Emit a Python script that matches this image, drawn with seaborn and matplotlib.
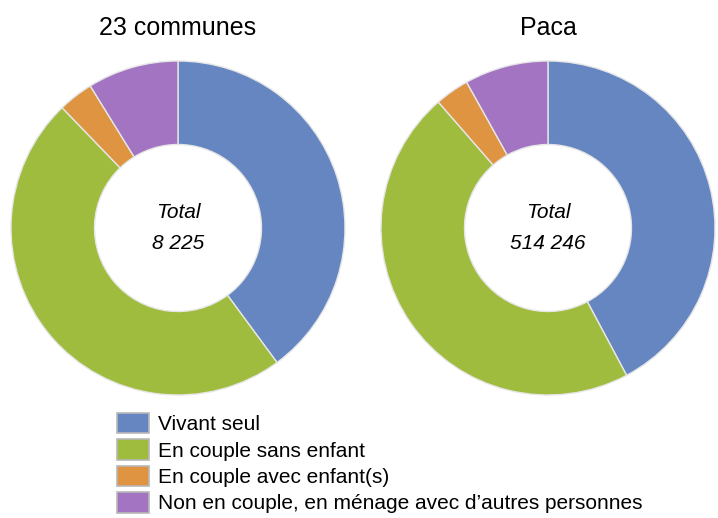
import matplotlib
matplotlib.use("Agg")
import matplotlib.pyplot as plt
import matplotlib.patches as mpatches
import seaborn as sns

# ---- Données (en %) ----
categories = ["Vivant seul",
              "En couple sans enfant",
              "En couple avec enfant(s)",
              "Non en couple, en ménage avec d\u2019autres personnes"]
communes_23 = [39.9, 47.9, 3.4, 8.8]
paca = [42.2, 46.4, 3.3, 8.1]
titres = ["23 communes", "Paca"]
totaux = ["8 225", "514 246"]

couleurs = ["#6586C0", "#A0BC3E", "#DE9440", "#A274C2"]

sns.set_theme(style="white")
plt.rcParams['font.family'] = ['Liberation Sans', 'DejaVu Sans']
plt.rcParams['text.color'] = 'black'

W, H = 718, 518
fig = plt.figure(figsize=(W / 100, H / 100), dpi=100)

R = 167  # rayon en pixels
centres = [(178, 228), (548, 228)]


def donut(ax, valeurs, titre, total):
    ax.pie(valeurs, colors=sns.color_palette(couleurs), startangle=90, counterclock=False,
           radius=1, wedgeprops=dict(width=0.5, edgecolor="#e6e6e6", linewidth=1.0))
    ax.set_xlim(-1, 1)
    ax.set_ylim(-1, 1)
    ax.set_aspect("equal")
    ax.axis("off")
    ax.text(0, 0.09, "Total", ha="center", va="center", fontsize=15, style="italic", color="black")
    ax.text(0, -0.09, total, ha="center", va="center", fontsize=15, style="italic", color="black")
    ax.text(0, 1.2, titre, ha="center", va="center", fontsize=18, color="black")


for (cx, cy), vals, t, tot in zip(centres, [communes_23, paca], titres, totaux):
    ax = fig.add_axes([(cx - R) / W, (H - cy - R) / H, 2 * R / W, 2 * R / H])
    donut(ax, vals, t, tot)

# ---- Légende ----
handles = [mpatches.Patch(facecolor=c, edgecolor="#b8b8b8", linewidth=1.2) for c in couleurs]
leg = fig.legend(handles, categories, loc="upper left", bbox_to_anchor=(117 / W, 1 - 413 / H),
                 frameon=False, fontsize=15, handlelength=1.55, handleheight=1.12,
                 labelspacing=0.25, handletextpad=0.4, borderpad=0, borderaxespad=0)
for txt in leg.get_texts():
    txt.set_color("black")

fig.savefig("out.png", dpi=100)
